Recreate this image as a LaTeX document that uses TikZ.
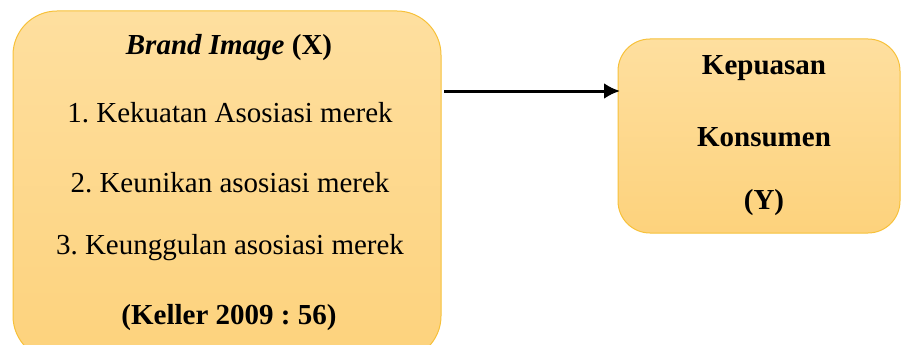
\documentclass[tikz,border=0pt]{standalone}
\usepackage{fontspec}
\setmainfont{Liberation Serif}
\usetikzlibrary{arrows.meta}
\frenchspacing
\begin{document}
\begin{tikzpicture}[x=1pt,y=-1pt,
  box/.style={draw=boxline, line width=1pt, top color=boxtop, bottom color=boxbottom},
  lbl/.style={font=\fontsize{29}{34}\selectfont, anchor=center, inner sep=0pt},
  link/.style={draw=black, line width=3pt, -{Latex[length=16pt,width=16pt]}}]
\definecolor{boxline}{HTML}{F7C13A}
\definecolor{boxtop}{HTML}{FEDF9F}
\definecolor{boxbottom}{HTML}{FDD27C}
\useasboundingbox (0,0) rectangle (902,345);
\clip (0,0) rectangle (902,345);
% variable boxes
\path[box, rounded corners=44pt] (13,11) rectangle (441,360);
\path[box, rounded corners=32pt] (618,39) rectangle (900,233);
\node[coordinate] (xbox) at (441,91) {};
\node[coordinate] (ybox) at (620,91) {};
% texts of the independent variable
\node[lbl] (t0) at (229,48) {\textbf{\textit{Brand Image}} \textbf{(X)}};
\node[lbl] (t1) at (230,113) {1. Kekuatan Asosiasi merek};
\node[lbl] (t2) at (230,183) {2. Keunikan asosiasi merek};
\node[lbl] (t3) at (230,248) {3. Keunggulan asosiasi merek};
\node[lbl] (t4) at (229,318) {\textbf{(Keller 2009 : 56)}};
% texts of the dependent variable
\node[lbl] (y0) at (764,68) {\textbf{Kepuasan}};
\node[lbl] (y1) at (764,137) {\textbf{Konsumen}};
\node[lbl] (y2) at (764,203) {\textbf{(Y)}};
% relation
\draw[link] ([xshift=3pt]xbox) -- (ybox);
\end{tikzpicture}
\end{document}
